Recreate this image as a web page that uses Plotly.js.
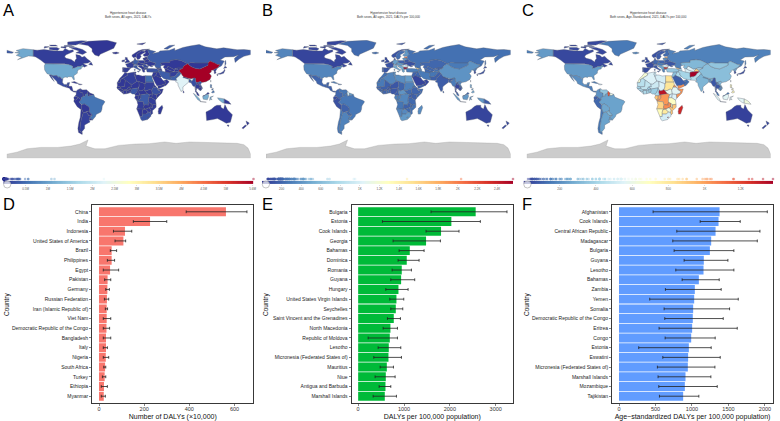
<!DOCTYPE html>
<html><head><meta charset="utf-8">
<script src="https://cdn.plot.ly/plotly-3.0.1.min.js"></script>
<style>html,body{margin:0;padding:0;background:#fff}#g{width:780px;height:421px}</style></head>
<body><div id="g"></div>
<script>
/* ---------- bar panels ---------- */
const countriesD=["China","India","Indonesia","United States of America","Brazil","Philippines","Egypt","Pakistan","Germany","Russian Federation","Iran (Islamic Republic of)","Viet Nam","Democratic Republic of the Congo","Bangladesh","Italy","Nigeria","South Africa","Turkey","Ethiopia","Myanmar"];
const valuesD=[562,226,115,108,56,56,49,38,37,35,34,34,33,31,31,30,27,25,22,21];
const lowD=[386,152,64,71,50,37,19,25,30,24,28,19,19,19,19,19,21,15,10,10];
const highD=[655,300,145,118,78,69,87,52,46,43,38,52,47,52,37,43,30,30,37,28];
const countriesE=["Bulgaria","Estonia","Cook Islands","Georgia","Bahamas","Dominica","Romania","Guyana","Hungary","United States Virgin Islands","Seychelles","Saint Vincent and the Grenadines","North Macedonia","Republic of Moldova","Lesotho","Micronesia (Federated States of)","Mauritius","Niue","Antigua and Barbuda","Marshall Islands"];
const valuesE=[2563,2033,1808,1481,1126,1060,951,937,879,835,821,777,704,690,668,661,625,603,596,581];
const lowE=[1590,530,1481,762,893,871,741,712,603,690,712,639,545,218,436,341,479,370,458,327];
const highE=[3246,2665,2200,1794,1438,1329,1162,1234,1089,995,973,922,857,857,930,944,770,806,712,835];
const countriesF=["Afghanistan","Cook Islands","Central African Republic","Madagascar","Bulgaria","Guyana","Lesotho","Bahamas","Zambia","Yemen","Somalia","Democratic Republic of the Congo","Eritrea","Congo","Estonia","Eswatini","Micronesia (Federated States of)","Marshall Islands","Mozambique","Tajikistan"];
const valuesF=[1378,1364,1323,1263,1245,1162,1158,1094,1039,1030,1016,1011,1002,989,957,947,943,911,902,879];
const lowF=[467,1112,792,737,755,892,778,865,636,421,618,627,549,632,270,600,526,535,545,554];
const highF=[2032,1661,1931,1895,1574,1492,1574,1373,1400,1634,1515,1428,1620,1318,1263,1387,1314,1259,1346,1094];

/* ---------- maps: name, [daly x10,000, rate, age-std rate], outline in lon/lat ---------- */
const mapRegions=[
["Canada",[7,60,40],[[-141,69.6,-135,69,-125,70,-115,68.5,-108,68,-97,68,-94,71.5,-88,68.5,-82,69.5,-81.5,67,-87,65,-93,62,-94.5,59,-92,57,-85,55.5,-82,53,-79.5,51.5,-79,54.5,-77,56.5,-78,62.5,-72,61.5,-69,58.5,-65,60,-61,56,-56,52.5,-60,50,-67,49.5,-65,48,-61,46,-66,44,-68,47.3,-71,45.2,-75,45,-79,43.3,-83,42,-82.5,45.5,-89,48,-95,49,-123,49,-130,54.5,-133,57,-137,59,-141,60],[-62,66,-68,62.5,-74,64.5,-78,65,-73,68,-80,70,-88,73.5,-78,73,-68,70],[-117,70,-105,68.5,-102,71,-106,73,-117,73],[-90,77,-78,76.5,-62,82.5,-70,83,-90,81],[-125,72,-117,74,-124,74.5],[-95,74.5,-80,74.5,-85,76,-95,76],[-59,48,-53,47,-55.5,51.5],[-115,75,-105,75,-108,76.5,-117,76.5],[-100,73,-93,72,-92,74,-100,74]]],
["United States",[108,330,230],[[-123,49,-95,49,-89,48,-82.5,45.5,-83,42,-79,43.3,-75,45,-71,45.2,-68,47.3,-66.9,44.8,-70,43.5,-70,41.5,-74,40.5,-76,37,-75.5,35.3,-81,31.5,-80,26,-81,25,-82.8,28,-84,30,-89,30,-90,29,-94,29.5,-97.3,27.5,-97.2,26,-99.5,27.5,-101.5,29.8,-103,29,-106.5,31.8,-111,31.3,-114.8,32.5,-117.2,32.5,-120.5,34.5,-124,40,-124.5,46],[-141,69.6,-156,71.3,-166,68.5,-161,66.5,-168,65.5,-161,64,-166,61.5,-158,58.5,-164,55,-153,59,-148,60.5,-141,60]]],
["Greenland",[0.1,210,150],[[-73,78.2,-60,82,-32,83.6,-18,80,-22,72,-32,68,-42,63,-44,60,-50,62,-54,67,-54,71,-60,76]]],
["Mexico",[20,190,200],[[-117.2,32.5,-114.8,32.5,-111,31.3,-106.5,31.8,-103,29,-101.5,29.8,-99.5,27.5,-97.2,26,-97.8,22,-95.5,18.7,-91,18.7,-90.5,21,-87,21.5,-88,18,-91,17,-92.2,14.5,-97,15.8,-105,20,-106,23,-109,26,-112.7,30.5,-114.8,31.7,-112,27,-109.8,23,-112,25,-115,29]]],
["Central America",[3,170,160],[[-92.2,14.5,-91,17,-88,18,-88.5,16,-84,15.8,-83.2,11,-82,9,-77.5,8.7,-78,7.3,-81,7.5,-85.5,10,-87.5,13]]],
["Cuba",[2,320,160],[[-84.5,22,-80,23,-74.2,20.2,-77.5,20]]],
["Hispaniola",[2,330,500],[[-74,19.8,-68.5,18.6,-71,18,-74,18.4]]],
["Colombia",[8,200,210],[[-77.5,8.7,-75,11,-71.5,12.4,-72,7.5,-67.5,6,-67,1,-70,-0.5,-70,-4.2,-75.5,0,-78,1.4,-79,2,-77.5,4]]],
["Venezuela",[5,260,350],[[-71.5,12.4,-68,10.6,-62,10.7,-60,8.5,-60.7,5.2,-64,4,-64,1.5,-67,1,-67.5,6,-72,7.5]]],
["Guyana",[0.7,937,1162],[[-60,8.5,-57,6,-57.5,2,-60,1.3,-60.7,5.2]]],
["Suriname and French Guiana",[0.3,430,600],[[-57,6,-52,5,-51.5,4,-54.5,2.3,-57.5,2]]],
["Ecuador",[1,90,90],[[-80,1,-78,1.4,-75.5,0,-75.5,-1.5,-78.5,-4.5,-80.3,-3.4,-81,-1]]],
["Peru",[2,110,110],[[-80.3,-3.4,-78.5,-4.5,-75.5,-1.5,-75.5,0,-70,-4.2,-73.5,-7.5,-70.5,-10,-69,-12.5,-69.5,-17.5,-70.4,-18.3,-76,-14,-81,-6]]],
["Brazil",[56,270,250],[[-60.7,5.2,-60,1.3,-57.5,2,-54.5,2.3,-51.5,4,-50,0,-44,-2.5,-37,-5,-35,-7,-39,-13,-39.5,-18,-41,-22,-48,-25.5,-49,-28.5,-53.4,-33.7,-57.6,-30.2,-54,-27,-54.6,-25.5,-58,-22,-57.8,-16,-60,-13.5,-65.3,-10,-69,-11,-70.5,-10,-73.5,-7.5,-70,-4.2,-70,-0.5,-67,1,-64,1.5,-64,4]]],
["Bolivia",[1,180,260],[[-69,-11,-65.3,-10,-60,-13.5,-57.8,-16,-58,-20,-62.5,-22,-67,-23,-69.5,-17.5,-69,-12.5]]],
["Paraguay",[0.6,210,300],[[-58,-20,-58,-22,-54.6,-25.5,-54.6,-27,-58.6,-27.3,-62.5,-22]]],
["Chile",[2,270,150],[[-70.4,-18.3,-69.5,-17.5,-67,-23,-70,-33,-71.5,-42,-72,-50,-68.5,-52.5,-68.6,-55,-74,-52,-75,-46,-73.5,-37,-71.5,-30]]],
["Argentina",[10,320,250],[[-67,-23,-62.5,-22,-58.6,-27.3,-54.6,-27,-57.6,-30.2,-58.4,-34,-57,-36.5,-62,-39,-65,-41,-65,-46,-69,-51,-68.5,-52.5,-72,-50,-71.5,-42,-70,-33]]],
["Uruguay",[0.8,320,240],[[-57.6,-30.2,-53.4,-33.7,-58.4,-34]]],
["Morocco",[4,240,640],[[-5.9,35.8,-2,35,-1.2,32.5,-8.7,27.7,-8.7,27.3,-12,26,-12,23.5,-13,21.3,-17,21,-13,27.7,-9.7,31]]],
["Algeria",[9,330,540],[[-2,35,8.5,37,8,33,9.5,30,12,23.5,6,19,3.2,19,-8.7,27.3,-8.7,27.7,-1.2,32.5]]],
["Tunisia",[2,400,480],[[8.5,37,11,37,10,34,11.5,32.5,9.5,30,8,33]]],
["Libya",[2,370,520],[[11.5,32.5,15,32.5,20,31,25,31.6,25,20,24,19.5,15,23,12,23.5,9.5,30]]],
["Egypt",[49,440,810],[[25,31.6,34,31.3,34.5,28,35.5,24,37,22,25,22]]],
["Mauritania",[0.7,280,450],[[-17,21,-13,21.3,-12,23.5,-12,26,-8.7,27.3,-5,25,-6,15.5,-12,15,-16.5,16]]],
["Mali",[2,170,470],[[-5,25,3.2,19,4,15,0,15,-3,11,-8,10.5,-12,12.5,-12,15,-6,15.5]]],
["Niger",[2,130,500],[[3.2,19,6,19,12,23.5,15,23,15.5,16,13.5,13.5,4,12,3,12,0,15,4,15]]],
["Chad",[2,190,540],[[15,23,24,19.5,24,15,22.5,11,18,9,15.5,10,14,13,15.5,16]]],
["Sudan",[8,310,800],[[24,19.5,25,20,25,22,37,22,38,18,36,14.5,34,10,32,12,27,9.5,23.5,10,22.5,11,24,15]]],
["South Sudan",[1,210,580],[[27,9.5,32,12,34,10,35,5,31,3.6,27.5,5,24,8.5,23.5,10]]],
["Senegal",[1,200,400],[[-16.5,16,-12,15,-12,12.5,-16.7,12.4,-17.5,14.7]]],
["Guinea",[1,200,420],[[-16.7,12.4,-12,12.5,-8,10.5,-8,8,-10.5,8.5,-13.3,9.5]]],
["Sierra Leone and Liberia",[1,260,450],[[-13.3,9.5,-10.5,8.5,-8,8,-7.5,4.4,-11,6.8]]],
["Cote d'Ivoire",[3,190,420],[[-8,10.5,-2.8,9.5,-3,5,-7.5,4.4,-8,8]]],
["Burkina Faso",[1,130,380],[[-3,11,0,15,3,12,0,11,-2.8,9.5,-8,10.5]]],
["Ghana",[3,220,400],[[-2.8,9.5,0,11,1,6,-3,5]]],
["Togo and Benin",[1,190,380],[[0,11,3,12,3.8,10,2.7,6.3,1,6]]],
["Nigeria",[30,140,380],[[3,12,4,12,13.5,13.5,14,13,14,11.5,12,7,9,4.5,5.5,4.5,2.7,6.3,3.8,10]]],
["Cameroon",[3,170,420],[[14,13,15.5,10,15,7.5,16,2,10,2.2,9,4.5,12,7,14,11.5]]],
["Central African Republic",[1,400,1323],[[15.5,10,18,9,22.5,11,23.5,10,24,8.5,27.5,5,19,3.5,16,3,15,7.5]]],
["Gabon",[0.6,300,900],[[10,2.2,14,2,14,-2.5,11,-4,8.8,-1,9.5,1]]],
["Congo",[1,300,989],[[14,2,16,3,18,3.5,18,-1,16,-4,12,-5,11,-4,14,-2.5]]],
["Democratic Republic of the Congo",[33,340,1011],[[18,3.5,19,3.5,27.5,5,31,3.6,29.5,-1,29,-6,30.5,-8.5,28.5,-9,29,-12,24,-11,22,-11,21.5,-7,17,-7,16,-6,12.3,-6,12,-5,16,-4,18,-1]]],
["Uganda",[3,160,520],[[31,3.6,35,5,34.5,1,34,-1,29.5,-1]]],
["Kenya",[4,170,540],[[35,5,41,4,41.5,-1.5,39.5,-4.5,34,-1,34.5,1]]],
["Eritrea",[0.8,250,1002],[[36,14.5,38,18,43,12.5,40,14.5,37,14.5]]],
["Ethiopia",[22,190,560],[[36,14.5,37,14.5,40,14.5,43,12.5,42.8,11,48,8,45,5,41,4,35,5,34,10]]],
["Somalia",[2,210,1016],[[43,11.5,51,12,49,6,41.5,-1.5,41,4,45,5,48,8]]],
["Tanzania",[7,210,680],[[34,-1,39.5,-4.5,40.4,-10.5,35,-11.5,33,-9.5,30.5,-8.5,29,-6,29.5,-1]]],
["Angola",[6,260,860],[[12.3,-6,16,-6,17,-7,21.5,-7,22,-11,24,-11,22,-13,22,-16.5,23,-18,11.8,-17.3,13.7,-11,13,-9]]],
["Zambia",[2,180,1039],[[24,-11,29,-12,28.5,-9,30.5,-8.5,33,-9.5,33,-14,30,-15.5,25,-17.7,22,-16.5,22,-13]]],
["Malawi",[1,220,650],[[33,-9.5,35,-11.5,35,-16.5,33,-14]]],
["Mozambique",[5,250,902],[[40.4,-10.5,40.5,-15,35,-20,35.5,-24,33,-26,32,-22.5,33,-19,30,-15.5,33,-14,35,-16.5,35,-11.5]]],
["Zimbabwe",[2,210,620],[[25,-17.7,30,-15.5,33,-19,32,-22.5,29,-22,26,-19]]],
["Namibia",[0.8,330,700],[[11.8,-17.3,23,-18,25,-17.7,21,-18.5,20,-22,20,-28.5,16.5,-28.5,14.5,-23]]],
["Botswana",[0.8,350,780],[[21,-18.5,25,-17.7,26,-19,29,-22,26,-25,23,-25.5,20,-25,20,-22]]],
["South Africa",[27,420,520],[[16.5,-28.5,20,-28.5,20,-25,23,-25.5,26,-25,29,-22,32,-22.5,33,-26,32.5,-28.5,28,-33,25,-34,20,-34.8,18,-33]]],
["Lesotho",[1.5,668,1158],[[27,-30,29,-29,29,-30.5,28,-30.5]]],
["Madagascar",[4,360,1263],[[49.3,-12,50.4,-15.5,47,-25,44,-25,43.5,-21,44.5,-16.5]]],
["France",[8,120,50],[[-1.8,43.4,-4.5,48.5,2.5,51,8,49,7.5,47.5,7,44,3,43]]],
["Spain",[6,130,50],[[-9,43.5,-1.8,43.4,3,42.3,-0.2,39,-2,36.8,-5.5,36,-7.3,37.2,-6.9,41.8,-9,42]]],
["Portugal",[2,190,70],[[-9,42,-6.9,41.8,-7.3,37.2,-9,37]]],
["United Kingdom",[6,90,50],[[-5.5,50,1.5,51.2,1,53,-2,56,-2,58,-5,58.5,-5,55,-3,54,-5,52]]],
["Ireland",[0.4,80,60],[[-10,52,-6,52.2,-6,55,-10,54]]],
["Iceland",[0.1,240,180],[[-24,65.5,-18,66.3,-14,65,-19,63.4,-23,64]]],
["Svalbard",[0.1,120,60],[[12,78,25,80,20,77]]],
["Norway",[0.6,120,60],[[5,60,5,62,14,68,20,70,31,70.5,25,69,18,68,12,63,11,59,7,58]]],
["Sweden",[2,220,80],[[11,59,12,63,18,68,23.5,67.5,24,65.8,17,62,18.5,60,16,56,13,55.5]]],
["Finland",[2,420,120],[[23.5,67.5,25,69,28,70,29,66,31,63,28,60.5,23,60,21,62,25,65,24,65.8]]],
["Germany",[37,450,110],[[6,51,7,53.5,9,55,14,54,15,51,12,50,13.5,48.5,10,47.5,7.5,47.5,8,49]]],
["Benelux",[2,110,45],[[2.5,51,4,52,7,53.5,6,51,8,49]]],
["Denmark",[0.4,90,50],[[8,55,8.5,57,11,56,10,55]]],
["Poland",[7,180,100],[[14,54,19,54.5,23,54,24,51,22.5,49,19,49.5,15,51]]],
["Central Europe",[6,420,150],[[12,50,15,51,19,49.5,22.5,49,22,47.5,19,46,16,46.5,13,46.6,10,47.5,13.5,48.5]]],
["Italy",[31,500,80],[[7,44,7.5,46,10,47,13,46.6,12.5,45,12.5,44,16,41.5,18.5,40,16.5,39,16,38,15.5,40,12.5,41.5,10,43.5],[12.5,38,15.5,38,15,36.7],[8.2,41,9.7,41,9.5,39,8.5,39]]],
["Western Balkans",[3,520,260],[[13.6,45.5,16,46.5,19,46,22.5,44,23,41.5,20,39.7,19,42,16,43.5]]],
["Romania",[18,951,540],[[22,47.5,24,48,28,45.5,29,45,28.5,44,23,43.8,22.5,44,21,46]]],
["Bulgaria",[17,2563,1245],[[22.5,44,23,43.8,28.5,43.7,28,42,26,41.5,23,41.5]]],
["Greece",[5,480,180],[[20,39.7,23,41.5,26,41.5,23,40,24,38,23,36.5,21,37]]],
["Republic of Moldova",[2,690,450],[[27,48.3,30,46,28.5,45.5]]],
["Ukraine",[4,110,70],[[22.5,49,24,51,32,52.3,40,50,38,47,33,46,36,45,33,44.5,30,46,27,48.3,24,48,22,47.5]]],
["Belarus",[1,130,80],[[24,51,23.5,54,28,56,31,54,32,52.3]]],
["Latvia and Lithuania",[0.8,420,210],[[21,56,21.5,57.5,27.5,57.5,28,56,23.5,54,21,55]]],
["Estonia",[2.7,2033,957],[[23.5,59,28,59.5,27.5,57.5,24,57.8]]],
["Russian Federation",[35,240,170],[[28,59.5,28,56,31,54,32,52.3,40,50,38,47,40,43.5,48,41.5,47,45,49,46.5,47,50,55,51,61,51,61,54,70,55,77,54,87,49,92,51,98,50,107,50,117,50,120,53,127,50,131,48,135,48,131,43,137,46,141,53,135,54.5,142,59,155,59.5,162,62,156,57,157,51,163,56,170,60,180,62.5,180,69,170,70,160,69.7,140,72.5,130,71,113,74,104,77.5,90,75,80,73,68,68.5,68,72,60,69,46,68,44,66,35,64,40,67,32,69.5,28,70,29,66,31,63,28,60.5],[-180,65,-172,64.5,-170,66,-180,69],[52,71,57,70.5,68,76.5,60,76],[142,46,143.5,49,143,54,142,53]]],
["Turkey",[25,300,360],[[26,41.5,28,42,35,42,42,41.5,44.5,39.5,44,37,36,36.5,30,36.3,27,37]]],
["Georgia",[6,1481,850],[[40,43.5,46,41.8,43,41]]],
["Azerbaijan and Armenia",[1,330,420],[[43,41,46,41.8,48,41.5,49.5,40,48.5,38.5,44.5,39.5]]],
["Syria and Levant",[3,180,330],[[36,36.5,42,37,41,34,39,32,37,29.5,35,29.5,34.3,31.3,35.8,35]]],
["Iraq",[3,190,420],[[42,37,44,37,46,35,46,33,48.5,30,47,29,44.5,29.3,39,32,41,34]]],
["Iran (Islamic Republic of)",[34,280,400],[[44.5,39.5,48.5,38.5,50,37,54,37,61,36.5,61,31,63,27,61.5,25,57,26,52,27,48.5,30,46,33,46,35,44,37]]],
["Saudi Arabia",[2,60,90],[[35,29.5,37,29.5,39,32,44.5,29.3,47,29,48,28,50,25,52,24,55,22,55,20,52,19,47,17,43,17,42,16,39,21,35,28]]],
["Yemen",[4,170,1030],[[43,17,47,17,52,19,53,16.5,45,12.8,43.3,12.7]]],
["Oman and UAE",[0.4,70,130],[[52,24,56,26,59.8,22.5,55,17,53,16.5,52,19,55,20,55,22]]],
["Kazakhstan",[3,200,310],[[47,50,49,46.5,53,46.8,51,44,53,42,56,41.3,58,45.5,61,44,66,41,70,42,73,42.8,80,42.5,80.5,45,83,47,87,49,77,54,70,55,61,54,61,51,55,51]]],
["Turkmenistan",[0.7,210,530],[[53,42,56,41.3,61,39,66,37.5,61,35.5,54,37,53.8,39.5]]],
["Uzbekistan",[3,200,540],[[56,41.3,58,45.5,61,44,66,41,70,41.5,67,38.5,66,37.5,61,39]]],
["Kyrgyzstan",[0.7,170,420],[[70,41.5,70,42,73,42.8,80,42.5,74,39.5]]],
["Tajikistan",[2,240,879],[[67,38.5,70,41.5,74,39.5,75,37.2,71,37.5,68,37]]],
["Afghanistan",[8,260,1378],[[61,36.5,66,37.5,68,37,71,37.5,75,37.2,71,34.5,70,32,66.5,30,61,29.5,61,31,61,35.5]]],
["Pakistan",[38,170,440],[[61,29.5,66.5,30,70,32,71,34.5,75,37.2,77.5,35,74.5,31,70,27.5,71,24.5,67,24.5,61.5,25,63,27]]],
["India",[226,160,300],[[77.5,35,79,32,81,30,88,26.5,92,27,96,28,94,24,92,25,89,26,88.5,22,87,21,82,17,80,15,80,11,77.5,8,73,17,72.5,21,69,22.5,71,24.5,70,27.5,74.5,31]]],
["Nepal",[3,130,240],[[81,30,88,27.7,88,26.5,80,28.7]]],
["Bangladesh",[31,190,240],[[89,26,92,25,92,21,89,22]]],
["Sri Lanka",[1,170,130],[[80,9.7,82,7,80.5,6]]],
["China",[562,395,330],[[75,37.2,74,39.5,80,42.5,80.5,45,83,47,87,49,92,45,98,42.5,105,41.5,112,45,117,47,117,50,120,53,127,50,131,48,135,48,131,43,125,40,121.5,39,122,37,119,35,122,31,120,26,114,22.5,108,21.5,106,23,102,21.5,99,22,98,28,96,28,92,27,88,27.7,81,30,79,32,77.5,35]]],
["Mongolia",[0.9,280,350],[[87,49,92,51,98,50,107,50,117,50,117,47,112,45,105,41.5,98,42.5,92,45]]],
["North Korea",[3,280,260],[[125,40,131,43,128,38,126,38]]],
["South Korea",[1,60,40],[[126,38,128,38,129,35.5,126.5,34.5]]],
["Japan",[12,100,45],[[131,34,136,35.5,140,38,141.5,41,142,39,140,35,135,33.5],[140,42,142,45.5,145,43.5,141,42],[130,33.5,131.7,33,131,31,130,32]]],
["Taiwan",[1,120,60],[[121,25,121,22,120,23]]],
["Myanmar",[21,290,70],[[92,21,92,23.5,94,24,96,28,98,28,99,22,101,21,98,16,98.5,10,97.5,16,95,16,94,18]]],
["Thailand",[5,70,70],[[98,16,101,21,101,19,105,17,105.5,14.5,102.5,12,100.5,13.5,99.5,9,102,6,100,6.5,98.2,8,99,13]]],
["Laos",[0.6,180,200],[[101,21,102,21.8,104.5,18.5,106,17,107.5,14.5,105.5,14.5,105,17,101,19]]],
["Viet Nam",[34,340,320],[[102,21.8,106,23,108,21.5,106,19,109,13,106,9,105,10,107,11,107.5,14.5,106,17,104.5,18.5]]],
["Cambodia",[0.6,100,180],[[102.5,12,105.5,14.5,107.5,14.5,107,11,105,10]]],
["Malaysia",[2,200,150],[[100,6.5,102,6,103.5,4,104,1.5,101,3],[109.5,2,113,3,117,7,119,5,115,4,110,1]]],
["Indonesia",[115,420,560],[[95.3,5.5,98,4,104,-2,106,-6,102,-4,97,2],[105,-6.5,114.5,-7.5,114,-8.5,106,-7.5],[109,1,110,1,115,4,117.5,4,118,1,116,-4,110,-3],[119.5,-5,120,0,125,1.5,121,-1,123,-4,120.5,-3],[131,-1,138,-1.7,141,-2.6,141,-9,138,-8,133,-4]]],
["Papua New Guinea",[1,150,620],[[141,-2.6,147,-6,151,-10.5,147,-10,141,-9]]],
["Philippines",[56,500,730],[[120.5,18.5,122.5,18,122,14,124,13,120.5,14],[122,7,125.5,9.7,126.5,7,124,6],[122,11,125,12.5,124,10]]],
["Australia",[3,60,25],[[114,-22,122,-18,126,-14,130,-12,136,-12,136,-15,140,-17.5,142,-11,146,-19,153,-26,150,-37,144,-38.5,138,-35,131,-31.5,124,-33,115,-34.5],[145,-41,148,-41,147,-43.5]]],
["New Zealand",[0.5,70,35],[[173,-35,178,-38,175,-41.5,174,-39],[172,-41,174,-42,169,-46.7,167,-45.5]]]
];
const antarcticaOutline=[-180,-84,-165,-81,-150,-76,-130,-74,-105,-74,-85,-72,-72,-69,-60,-63,-63,-72,-50,-76,-35,-76,-15,-71,10,-69,30,-68.5,53,-66,70,-68,90,-66,115,-66.5,140,-66.5,160,-68,170,-70,176,-75,180,-84,180,-90,-180,-90];
const scaleMax=[562,2563,1378];
const legendTicks=[
 {v:[50,100,150,200,250,300,350,400,450,500,560],t:["0.5M","1M","1.5M","2M","2.5M","3M","3.5M","4M","4.5M","5M","5.6M"]},
 {v:[200,400,600,800,1000,1200,1400,1600,1800,2000,2200,2400],t:["200","400","600","800","1K","1.2K","1.4K","1.6K","1.8K","2K","2.2K","2.4K"]},
 {v:[200,400,600,800,1000,1200],t:["200","400","600","800","1K","1.2K"]}
];
const mapTitles=["Hypertensive heart disease<br>Both sexes, All ages, 2021, DALYs","Hypertensive heart disease<br>Both sexes, All ages, 2021, DALYs per 100,000","Hypertensive heart disease<br>Both sexes, Age-Standardized, 2021, DALYs per 100,000"];
const panelLetters=["A","B","C","D","E","F"];
const rdylbu=["#313695","#4575b4","#74add1","#abd9e9","#e0f3f8","#ffffbf","#fee090","#fdae61","#f46d43","#d73027","#a50026"];

/* ---------- layout helpers ---------- */
const W=780,H=421;
const fx=(a,b)=>[a/W,b/W], fy=(t,b)=>[1-b/H,1-t/H];
function hex(c){return [1,3,5].map(i=>parseInt(c.substr(i,2),16));}
function colorAt(t){t=Math.max(0,Math.min(1,t));const p=t*(rdylbu.length-1),i=Math.min(Math.floor(p),rdylbu.length-2),f=p-i;
 const a=hex(rdylbu[i]),b=hex(rdylbu[i+1]);return "rgb("+a.map((v,k)=>Math.round(v+(b[k]-v)*f)).join(",")+")";}
const cscale=rdylbu.map((c,i)=>[i/(rdylbu.length-1),c]);
const traces=[],layout={width:W,height:H,margin:{l:0,r:0,t:0,b:0},paper_bgcolor:"#fff",plot_bgcolor:"rgba(0,0,0,0)",showlegend:false,annotations:[],shapes:[],
 font:{family:"Liberation Sans, Arial, sans-serif",color:"#222"}};
const hidden={visible:false,fixedrange:true};
const mapX=[[6.7,250.7],[266,510.7],[526.7,770.7]];
const barCols=[[92,253.5],[351.5,513],[612,773]];

/* ---------- maps ---------- */
[0,1,2].forEach(m=>{
 const xa="x"+(m*2+1),ya="y"+(m*2+1),xb="x"+(m*2+2),yb="y"+(m*2+2);
 const xn=k=>"xaxis"+(k===1?"":k),yn=k=>"yaxis"+(k===1?"":k);
 layout[xn(m*2+1)]=Object.assign({},hidden,{domain:fx(mapX[m][0],mapX[m][1]),range:[-180,180],anchor:ya});
 layout[yn(m*2+1)]=Object.assign({},hidden,{domain:fy(40,158.3),range:[-90,84],anchor:xa});
 const line={color:"#59606e",width:0.35};
 const an=antarcticaOutline.length/2, axs=[],ays=[];
 for(let i=0;i<=an;i++){axs.push(antarcticaOutline[(i%an)*2]);ays.push(antarcticaOutline[(i%an)*2+1]);}
 traces.push({type:"scatter",mode:"lines",x:axs,y:ays,fill:"toself",fillcolor:"#cccccc",line:{color:"#999",width:0.3},xaxis:xa,yaxis:ya,hoverinfo:"skip"});
 mapRegions.forEach(r=>{
  const xs=[],ys=[];
  r[2].forEach(p=>{for(let i=0;i<p.length;i+=2){xs.push(p[i]);ys.push(p[i+1]);}xs.push(p[0],null);ys.push(p[1],null);});
  traces.push({type:"scatter",mode:"lines",x:xs,y:ys,fill:"toself",fillcolor:colorAt(r[1][m]/scaleMax[m]),line,xaxis:xa,yaxis:ya,name:r[0],hoverinfo:"name"});
 });
 /* legend strip */
 const lx=[m===0?3.3:m===1?262:523.5, m===0?253.5:m===1?513:773];
 layout[xn(m*2+2)]={domain:fx(lx[0],lx[1]),range:[0,scaleMax[m]],anchor:yb,fixedrange:true,showgrid:false,zeroline:false,showline:false,
   tickmode:"array",tickvals:legendTicks[m].v,ticktext:legendTicks[m].t,ticks:"outside",ticklen:1,tickwidth:0.3,tickcolor:"#888",tickfont:{size:3,color:"#555"}};
 layout[yn(m*2+2)]=Object.assign({},hidden,{domain:fy(177.3,184.2),range:[0,2],anchor:xb});
 const zx=[];for(let i=0;i<=200;i++)zx.push(scaleMax[m]*i/200);
 traces.push({type:"heatmap",x:zx,y:[0,0.95],z:[zx.slice(0,200)],zmin:0,zmax:scaleMax[m],colorscale:cscale,showscale:false,xaxis:xb,yaxis:yb,hoverinfo:"skip"});
 const rv=mapRegions.map(r=>r[1][m]);
 traces.push({type:"scatter",mode:"markers",x:rv,y:rv.map(()=>1.5),xaxis:xb,yaxis:yb,hoverinfo:"skip",cliponaxis:false,
  marker:{size:2.6,opacity:0.45,color:rv,cmin:0,cmax:scaleMax[m],colorscale:cscale,line:{width:0}}});
 /* faded logo mark */
 layout.shapes.push({type:"circle",xref:"paper",yref:"paper",x0:(lx[0]+0.3)/W,x1:(lx[0]+7.5)/W,y0:1-188/H,y1:1-181/H,line:{color:"#aaa",width:0.7},fillcolor:"rgba(255,255,255,0.7)"});
 layout.annotations.push({xref:"paper",yref:"paper",x:(mapX[m][0]+mapX[m][1])/2/W,y:1-9.5/H,yanchor:"top",xanchor:"center",showarrow:false,text:mapTitles[m],font:{size:3,color:"#333"},align:"center"});
});

/* ---------- bars ---------- */
const barData=[
 {c:countriesD,v:valuesD,lo:lowD,hi:highD,color:"#F8766D",range:[-31,684],ticks:[0,200,400,600],title:"Number of DALYs (×10,000)"},
 {c:countriesE,v:valuesE,lo:lowE,hi:highE,color:"#00BA38",range:[-145,3377],ticks:[0,1000,2000,3000],title:"DALYs per 100,000 population)"},
 {c:countriesF,v:valuesF,lo:lowF,hi:highF,color:"#619CFF",range:[-96,2110],ticks:[0,500,1000,1500,2000],title:"Age−standardized DALYs per 100,000 population)"}
];
barData.forEach((d,k)=>{
 const n=7+k,xa="x"+n,ya="y"+n;
 layout["xaxis"+n]={domain:fx(barCols[k][0],barCols[k][1]),range:d.range,anchor:ya,fixedrange:true,showgrid:false,zeroline:false,
  mirror:true,showline:true,linecolor:"#222",linewidth:0.9,ticks:"outside",ticklen:2,tickwidth:0.6,tickcolor:"#333",tickvals:d.ticks,tickfont:{size:5.5,color:"#333"},ticklabelstandoff:-2,
  title:{text:d.title,font:{size:7,color:"#111"},standoff:3}};
 layout["yaxis"+n]={domain:fy(205,403),range:[19.7,-0.7],anchor:xa,fixedrange:true,showgrid:false,zeroline:false,
  mirror:true,showline:true,linecolor:"#222",linewidth:0.9,ticks:"outside",ticklen:2,tickwidth:0.6,tickcolor:"#333",
  tickmode:"array",tickvals:d.c.map((_,i)=>i),ticktext:d.c,tickfont:{size:5,color:"#222"},automargin:false};
 traces.push({type:"bar",orientation:"h",y:d.c.map((_,i)=>i),x:d.v,width:0.92,marker:{color:d.color,line:{width:0}},xaxis:xa,yaxis:ya,name:"",hoverinfo:"x",textposition:"none",
  error_x:{type:"data",symmetric:false,array:d.hi.map((h,i)=>h-d.v[i]),arrayminus:d.v.map((v,i)=>v-d.lo[i]),color:"#222",thickness:0.8,width:1.4}});
 layout.annotations.push({xref:"paper",yref:"paper",x:[7,266,527][k]/W,y:1-304/H,xanchor:"center",yanchor:"middle",textangle:-90,showarrow:false,text:"Country",font:{size:6.5,color:"#111"}});
});
panelLetters.forEach((l,i)=>{
 layout.annotations.push({xref:"paper",yref:"paper",x:[0.5,260,520][i%3]/W,y:1-[10,10,10,204,204,204][i]/H,xanchor:"left",yanchor:"middle",showarrow:false,text:l,font:{size:16.5,color:"#000"}});
});
Plotly.newPlot("g",traces,layout,{staticPlot:true,displayModeBar:false});
</script></body></html>
